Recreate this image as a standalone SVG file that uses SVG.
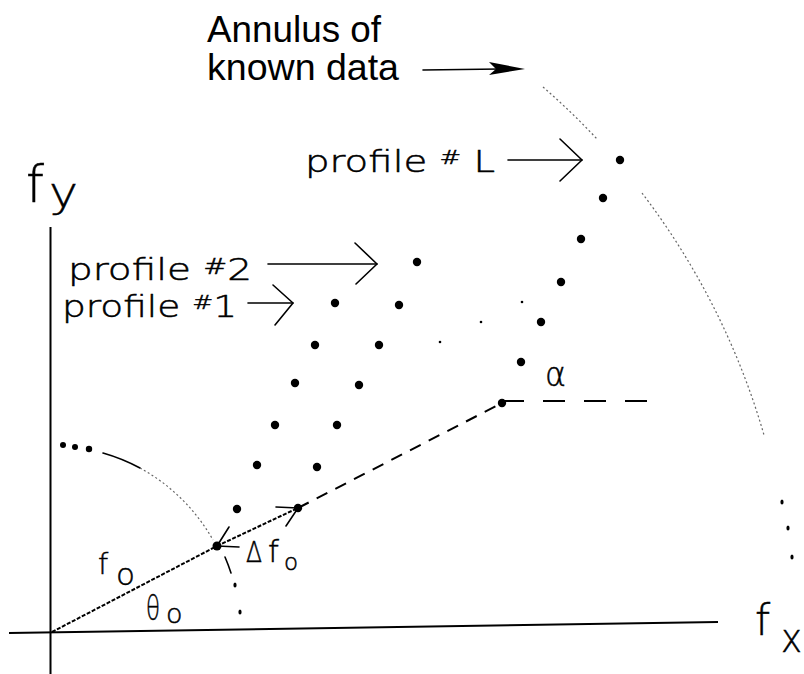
<svg xmlns="http://www.w3.org/2000/svg" width="804" height="674" viewBox="0 0 804 674">
<style>
.ax{stroke:#000;stroke-width:2;fill:none}
.ln{stroke:#000;stroke-width:1.6;fill:none;stroke-linecap:round;stroke-linejoin:round}
.dash1{stroke:#000;stroke-width:2;fill:none;stroke-dasharray:4 1.6}
.dash2{stroke:#000;stroke-width:2;fill:none;stroke-dasharray:12 9}
.dash3{stroke:#000;stroke-width:2;fill:none;stroke-dasharray:22 19}
.faint{stroke:#666;stroke-width:1.2;fill:none;stroke-dasharray:2 2.5}
.dot{fill:#000}
.hs{font-family:"DejaVu Sans","Liberation Sans",sans-serif;font-weight:200;fill:#000;stroke:#000;stroke-width:0.5}
.hv{font-family:"Liberation Sans",Arial,sans-serif;fill:#000}
</style>
<rect width="804" height="674" fill="#fff"/>
<g id="axes">
<line class="ax" x1="50.5" y1="227" x2="50.5" y2="674"/>
<line class="ax" x1="9" y1="633" x2="718" y2="622"/>
</g>
<g id="axis-labels">
<text class="hs" font-size="51" x="26" y="202">f<tspan font-size="42" x="49" y="207" textLength="29" lengthAdjust="spacingAndGlyphs">y</tspan></text>
<text class="hs" font-size="43" x="755" y="635">f<tspan font-size="40" x="781" y="652" textLength="21" lengthAdjust="spacingAndGlyphs">x</tspan></text>
</g>
<g id="annulus">
<path class="faint" d="M543,87 A737,737 0 0 1 598,140"/>
<path class="faint" d="M642,193 A737,737 0 0 1 764,435"/>
<ellipse class="dot" cx="782" cy="502" rx="1.6" ry="2.6"/>
<ellipse class="dot" cx="788" cy="528" rx="1.6" ry="2.6"/>
<ellipse class="dot" cx="792" cy="557" rx="1.6" ry="2.6"/>
</g>
<g id="annulus-label">
<text class="hv" font-size="37" x="207" y="42" textLength="174" lengthAdjust="spacingAndGlyphs">Annulus of</text>
<text class="hv" font-size="37" x="207" y="80" textLength="192" lengthAdjust="spacingAndGlyphs">known data</text>
</g>
<g id="inner-arc">
<circle class="dot" cx="63" cy="445" r="3"/>
<circle class="dot" cx="75" cy="447" r="3"/>
<circle class="dot" cx="89" cy="449" r="3.2"/>
<path class="ln" d="M103,453 A187,187 0 0 1 140,468"/>
<path class="faint" d="M140,468 A187,187 0 0 1 213,540"/>
<path class="ln" d="M225,557 A187,187 0 0 1 231,573"/>
<ellipse class="dot" cx="235" cy="585" rx="1.6" ry="2.6"/>
<ellipse class="dot" cx="240" cy="612" rx="1.6" ry="2.6"/>
</g>
<g id="radial-line">
<line class="dash1" x1="52" y1="632" x2="217" y2="546"/>
<line class="dash1" x1="217" y1="546" x2="298" y2="508"/>
<line class="dash2" x1="298" y1="508" x2="502" y2="403"/>
<line class="dash3" x1="502" y1="401" x2="650" y2="401"/>
</g>
<g id="profile-1">
<circle class="dot" cx="217" cy="546" r="4.5"/>
<circle class="dot" cx="237" cy="509" r="4.2"/>
<circle class="dot" cx="257" cy="465" r="4.2"/>
<circle class="dot" cx="275" cy="425" r="4.2"/>
<circle class="dot" cx="295" cy="383" r="4.2"/>
<circle class="dot" cx="315" cy="345" r="4.2"/>
<circle class="dot" cx="335" cy="303" r="4.2"/>
</g>
<g id="profile-2">
<circle class="dot" cx="298" cy="508" r="4.2"/>
<circle class="dot" cx="317" cy="467" r="4.2"/>
<circle class="dot" cx="337" cy="425" r="4.2"/>
<circle class="dot" cx="359" cy="385" r="4.2"/>
<circle class="dot" cx="379" cy="345" r="4.2"/>
<circle class="dot" cx="399" cy="305" r="4.2"/>
<circle class="dot" cx="417" cy="262" r="4.2"/>
</g>
<g id="profile-L">
<circle class="dot" cx="502" cy="403" r="4.2"/>
<circle class="dot" cx="521" cy="362" r="4.2"/>
<circle class="dot" cx="541" cy="322" r="4.2"/>
<circle class="dot" cx="561" cy="282" r="4.2"/>
<circle class="dot" cx="581" cy="239" r="4.2"/>
<circle class="dot" cx="603" cy="198" r="4.2"/>
<circle class="dot" cx="620" cy="160" r="4.2"/>
</g>
<g id="ellipsis-dots">
<circle class="dot" cx="440" cy="342" r="1.3"/>
<circle class="dot" cx="481" cy="322" r="1.3"/>
<circle class="dot" cx="522" cy="302" r="1.3"/>
</g>
<g id="profile-labels">
<text class="hs" font-size="30" x="68" y="280" textLength="184" lengthAdjust="spacingAndGlyphs">profile <tspan font-size="22" dy="-6">#</tspan><tspan dy="6">2</tspan></text>
<text class="hs" font-size="30" x="62" y="317" textLength="175" lengthAdjust="spacingAndGlyphs">profile <tspan font-size="20" dy="-8">#</tspan><tspan dy="8">1</tspan></text>
<text class="hs" font-size="30" x="305" y="172" textLength="190" lengthAdjust="spacingAndGlyphs">profile <tspan font-size="20" dy="-8">#</tspan><tspan dy="8"> L</tspan></text>
</g>
<g id="symbol-labels">
<text class="hs" font-size="29" x="98" y="574">f<tspan font-size="31" x="116" y="585">o</tspan></text>
<text class="hs" font-size="33" x="146" y="620" textLength="14" lengthAdjust="spacingAndGlyphs">θ</text>
<text class="hs" font-size="27" x="166" y="623">o</text>
<text class="hs" font-size="29" x="246" y="562" textLength="16" lengthAdjust="spacingAndGlyphs">Δ</text>
<text class="hs" font-size="31" x="268" y="562">f<tspan font-size="23" x="284" y="570">o</tspan></text>
<text class="hs" font-size="34" x="545" y="386" textLength="21" lengthAdjust="spacingAndGlyphs">α</text>
</g>
<g id="connectors">
<line class="ln" x1="423" y1="70" x2="500" y2="69"/>
<polygon class="dot" points="489,62 525,69 489,75 496,69"/>
<line class="ln" x1="508" y1="160" x2="582" y2="160"/>
<polyline class="ln" points="560,139 582,160 560,181"/>
<line class="ln" x1="268" y1="264" x2="377" y2="264"/>
<polyline class="ln" points="355,243 377,264 356,284"/>
<line class="ln" x1="248" y1="303" x2="293" y2="303"/>
<polyline class="ln" points="273,285 293,303 275,325"/>
<polyline class="ln" points="239,547 217,546 229,527"/>
<polyline class="ln" points="276,507 298,508 286,526"/>
</g>
</svg>
